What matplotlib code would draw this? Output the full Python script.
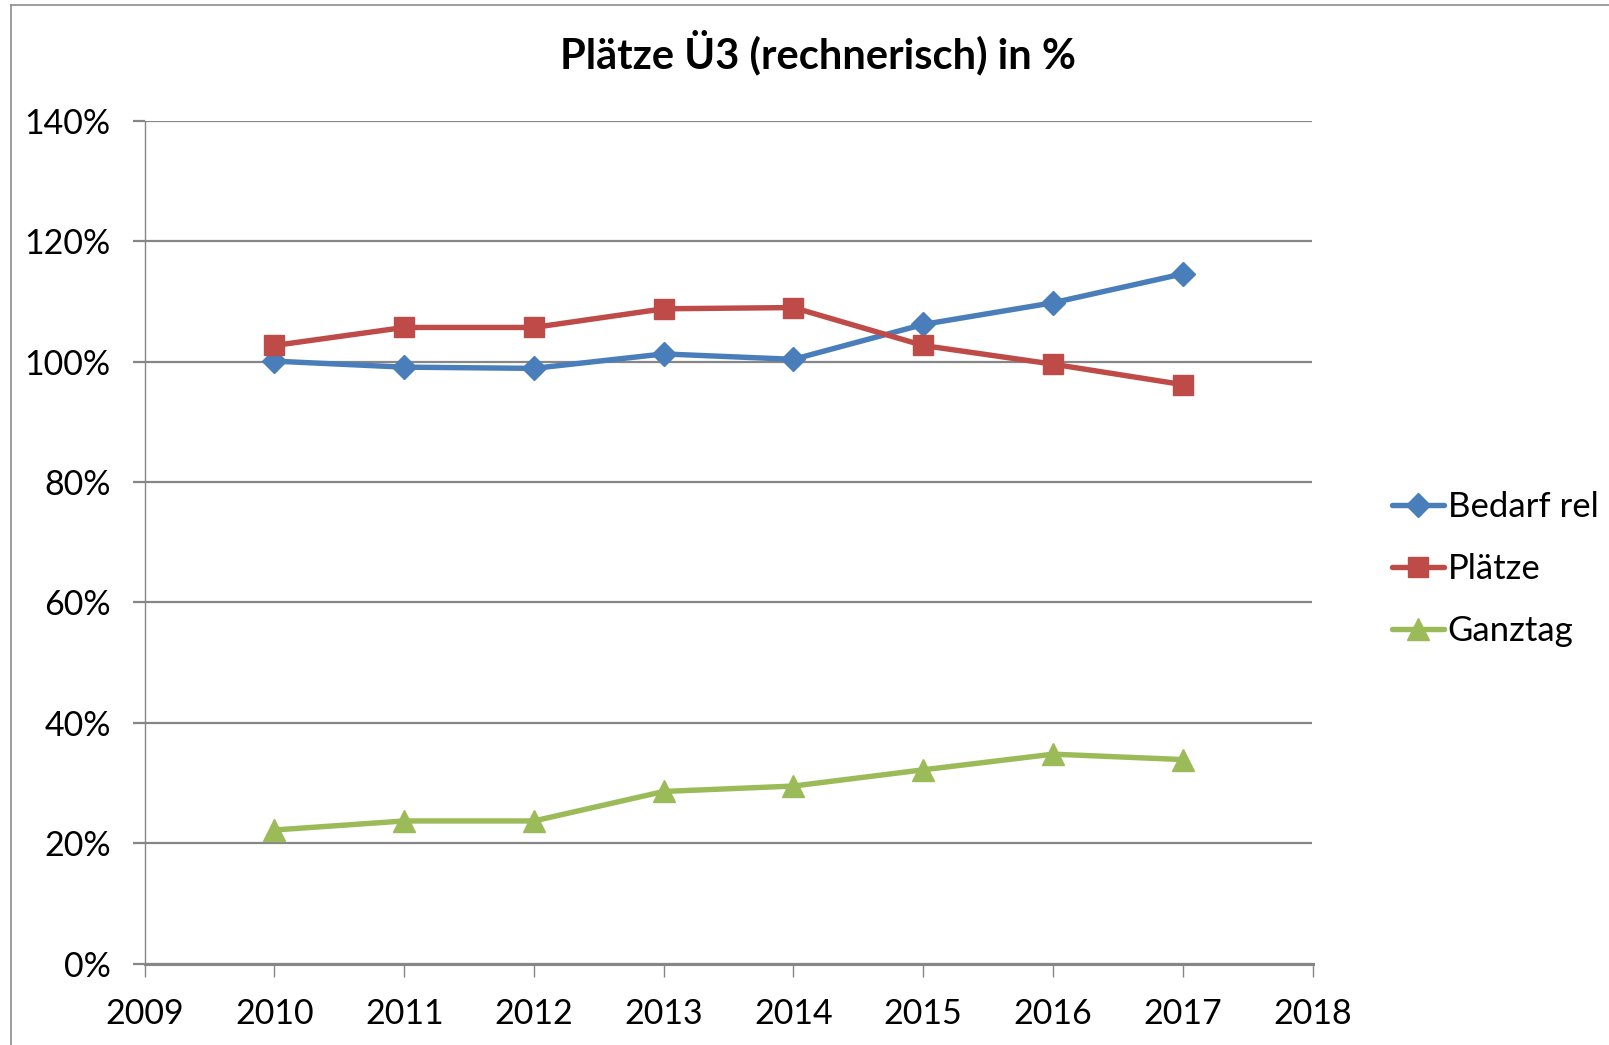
import matplotlib

matplotlib.use("Agg")
import matplotlib.pyplot as plt
from matplotlib.lines import Line2D
from matplotlib.ticker import FuncFormatter, MultipleLocator

plt.rcParams["font.family"] = ["Lato", "DejaVu Sans"]

years = [2010, 2011, 2012, 2013, 2014, 2015, 2016, 2017]
bedarf_rel = [100.1, 99.1, 98.9, 101.3, 100.4, 106.2, 109.8, 114.6]
plaetze = [102.7, 105.7, 105.7, 108.8, 109.0, 102.7, 99.6, 96.2]
ganztag = [22.2, 23.7, 23.7, 28.6, 29.5, 32.2, 34.8, 33.9]

series_labels = ["Bedarf rel", "Plätze", "Ganztag"]
title = "Plätze Ü3 (rechnerisch) in %"

W, H = 1609, 1045
fig = plt.figure(figsize=(W / 100, H / 100), dpi=100)
ax = fig.add_axes([144.7 / W, 81.4 / H, (1312.5 - 144.7) / W, (963.6 - 121) / H])

grid_color = "#868686"
ax.plot(years, bedarf_rel, color="#4A7EBB", lw=3.9, marker="D", ms=12,
        label=series_labels[0], solid_joinstyle="round", solid_capstyle="round")
ax.plot(years, plaetze, color="#BE4B48", lw=3.9, marker="s", ms=14.5,
        label=series_labels[1], solid_joinstyle="round", solid_capstyle="round")
ax.plot(years, ganztag, color="#9BBB59", lw=3.9, marker="^", ms=15.5,
        label=series_labels[2], solid_joinstyle="round", solid_capstyle="round")

ax.set_xlim(2009, 2018)
ax.set_ylim(0, 140)
ax.xaxis.set_major_locator(MultipleLocator(1))
ax.yaxis.set_major_locator(MultipleLocator(20))
ax.yaxis.set_major_formatter(FuncFormatter(lambda v, _: f"{v:.0f}%"))

ax.grid(axis="y", color=grid_color, lw=1.6)
ax.set_axisbelow(True)
for side in ("top", "right"):
    ax.spines[side].set_visible(False)
ax.spines["left"].set_color(grid_color)
ax.spines["left"].set_linewidth(1.0)
ax.spines["bottom"].set_color(grid_color)
ax.spines["bottom"].set_linewidth(2.2)

ax.tick_params(axis="x", direction="out", length=9, width=1, color=grid_color,
               labelsize=24.5, pad=15.5)
ax.tick_params(axis="y", direction="out", length=8.5, width=1.6, color=grid_color,
               labelsize=24.5, pad=16)

fig.legend(loc="center left", bbox_to_anchor=(1392 / W, 1 - 569 / H),
           frameon=False, fontsize=25, handlelength=1.5, handletextpad=0.1,
           labelspacing=0.86, borderpad=0, borderaxespad=0)

fig.text(818 / W, 1 - 68 / H, title, ha="center", va="baseline",
         fontsize=30, fontweight="bold")

# outer chart frame (left and top edges visible)
frame_kw = dict(color="#8c8c8c", lw=1.2, transform=fig.transFigure)
fig.add_artist(Line2D([10.5 / W, 10.5 / W], [0, 1 - 5 / H], **frame_kw))
fig.add_artist(Line2D([10.5 / W, 1], [1 - 5 / H, 1 - 5 / H], **frame_kw))

fig.savefig("out.png", dpi=100)
